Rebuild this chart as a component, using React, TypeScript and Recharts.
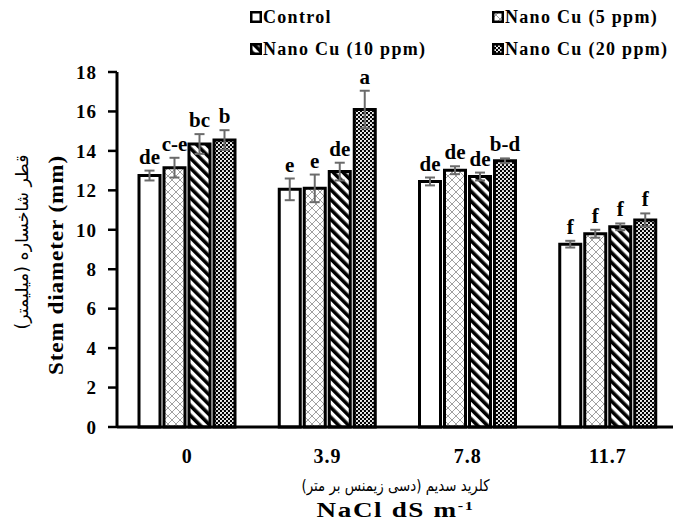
import { BarChart, Bar, XAxis, YAxis, ErrorBar, LabelList, Label } from 'recharts';

const categories = ['0', '3.9', '7.8', '11.7'];

const control = [12.75, 12.05, 12.45, 9.27];
const controlErr = [0.25, 0.55, 0.2, 0.17];
const controlLetters = ['de', 'e', 'de', 'f'];

const cu5 = [13.15, 12.1, 13.02, 9.8];
const cu5Err = [0.5, 0.7, 0.2, 0.2];
const cu5Letters = ['c-e', 'e', 'de', 'f'];

const cu10 = [14.35, 12.95, 12.7, 10.15];
const cu10Err = [0.5, 0.45, 0.2, 0.17];
const cu10Letters = ['bc', 'de', 'de', 'f'];

const cu20 = [14.55, 16.1, 13.5, 10.5];
const cu20Err = [0.5, 0.95, 0.12, 0.33];
const cu20Letters = ['b', 'a', 'b-d', 'f'];

const yTicks = [0, 2, 4, 6, 8, 10, 12, 14, 16, 18];

const data = categories.map((name, i) => ({
  name,
  control: control[i],
  controlErr: controlErr[i],
  cu5: cu5[i],
  cu5Err: cu5Err[i],
  cu10: cu10[i],
  cu10Err: cu10Err[i],
  cu20: cu20[i],
  cu20Err: cu20Err[i],
}));

const series = [
  { key: 'control', err: 'controlErr', errs: controlErr, letters: controlLetters, fill: '#ffffff', name: 'Control' },
  { key: 'cu5', err: 'cu5Err', errs: cu5Err, letters: cu5Letters, fill: 'url(#pCross)', name: 'Nano Cu (5 ppm)' },
  { key: 'cu10', err: 'cu10Err', errs: cu10Err, letters: cu10Letters, fill: 'url(#pStripe)', name: 'Nano Cu (10 ppm)' },
  { key: 'cu20', err: 'cu20Err', errs: cu20Err, letters: cu20Letters, fill: 'url(#pDots)', name: 'Nano Cu (20 ppm)' },
];

const SERIF = '"Liberation Serif", "Times New Roman", serif';
const PERSIAN = '"DejaVu Sans", sans-serif';

function Patterns() {
  return (
    <defs>
      <pattern id="pCross" width="8" height="8" patternUnits="userSpaceOnUse">
        <rect width="8" height="8" fill="#fff" />
        <path d="M0 0L8 8M8 0L0 8" stroke="#a0a0a0" strokeWidth="1" />
      </pattern>
      <pattern id="pStripe" width="7" height="7" patternUnits="userSpaceOnUse" patternTransform="rotate(-45)">
        <rect width="7" height="7" fill="#fff" />
        <rect width="3.6" height="7" fill="#000" />
      </pattern>
      <pattern id="pDots" width="4" height="4" patternUnits="userSpaceOnUse">
        <rect width="4" height="4" fill="#000" />
        <circle cx="1" cy="1" r="1.1" fill="#fff" />
        <circle cx="3" cy="3" r="1.1" fill="#fff" />
      </pattern>
    </defs>
  );
}

function makeLetterLabel(letters: string[], errs: number[]) {
  return (props: any) => {
    const x = Number(props.x);
    const y = Number(props.y);
    const w = Number(props.width);
    const h = Number(props.height);
    const v = Number(props.value);
    const i = props.index;
    const perUnit = v ? h / v : 0;
    const top = y - errs[i] * perUnit;
    return (
      <text
        x={x + w / 2}
        y={top - 7}
        textAnchor="middle"
        fontFamily={SERIF}
        fontWeight="bold"
        fontSize={21}
        fill="#000"
      >
        {letters[i]}
      </text>
    );
  };
}

function YTitle(props: any) {
  const vb = props.viewBox;
  const py = 242;
  const sy = 265;
  const px = vb.x + 22;
  const sx = vb.x + 56;
  return (
    <g>
      <text
        x={px}
        y={py}
        transform={`rotate(-90 ${px} ${py})`}
        textAnchor="middle"
        dominantBaseline="central"
        fontFamily={PERSIAN}
        fontSize={17}
        textLength={175}
        lengthAdjust="spacingAndGlyphs"
        direction="rtl"
        style={{ direction: 'rtl', unicodeBidi: 'embed' }}
        fill="#000"
      >
        قطر شاخساره (میلیمتر)
      </text>
      <text
        x={sx}
        y={sy}
        transform={`rotate(-90 ${sx} ${sy})`}
        textAnchor="middle"
        dominantBaseline="central"
        fontFamily={SERIF}
        fontWeight="bold"
        fontSize={20}
        letterSpacing={0.8}
        textLength={220}
        lengthAdjust="spacingAndGlyphs"
        fill="#000"
      >
        Stem diameter (mm)
      </text>
    </g>
  );
}

function XTitle(props: any) {
  const vb = props.viewBox;
  const cx = vb.x + vb.width / 2 - 2;
  return (
    <g>
      <text
        x={cx}
        y={vb.y + 64}
        textAnchor="middle"
        fontFamily={PERSIAN}
        fontSize={16}
        textLength={188}
        lengthAdjust="spacingAndGlyphs"
        direction="rtl"
        style={{ direction: 'rtl', unicodeBidi: 'embed' }}
        fill="#000"
      >
        کلرید سدیم (دسی زیمنس بر متر)
      </text>
      <text
        x={cx}
        y={vb.y + 90}
        textAnchor="middle"
        fontFamily={SERIF}
        fontWeight="bold"
        fontSize={20}
        letterSpacing={1.2}
        textLength={158}
        lengthAdjust="spacingAndGlyphs"
        fill="#000"
      >
        <tspan>NaCl dS m</tspan>
        <tspan dy={-7} fontSize={12}>-1</tspan>
      </text>
    </g>
  );
}

function XTick(props: any) {
  return (
    <text
      x={props.x}
      y={props.y}
      dy={28}
      textAnchor="middle"
      fontFamily={SERIF}
      fontWeight="bold"
      fontSize={20}
      letterSpacing={1}
      fill="#000"
    >
      {props.payload.value}
    </text>
  );
}

function LegendBox() {
  const pos = [
    { left: 250, top: 7 },
    { left: 492, top: 7 },
    { left: 250, top: 39 },
    { left: 492, top: 39 },
  ];
  return (
    <>
      {series.map((s, i) => (
        <div
          key={s.key}
          style={{
            position: 'absolute',
            left: pos[i].left,
            top: pos[i].top,
            display: 'flex',
            alignItems: 'center',
            fontFamily: SERIF,
            fontWeight: 'bold',
            fontSize: 18,
            letterSpacing: 1.3,
            whiteSpace: 'nowrap',
            lineHeight: '20px',
          }}
        >
          <svg width={12} height={12} style={{ marginRight: 1 }}>
            <rect x={1.25} y={1.25} width={9.5} height={9.5} fill={s.fill} stroke="#000" strokeWidth={2.5} />
          </svg>
          {s.name}
        </div>
      ))}
    </>
  );
}

export default function App() {
  return (
    <div style={{ position: 'absolute', left: 0, top: 0, width: 673, height: 524, overflow: 'hidden', background: '#fff' }}>
      <BarChart
        width={680}
        height={524}
        data={data}
        margin={{ top: 72, right: 2, left: 0, bottom: 0 }}
        barSize={21}
        barGap={4}
      >
        <Patterns />
        <XAxis
          dataKey="name"
          height={97}
          axisLine={{ stroke: '#000', strokeWidth: 3 }}
          tickLine={false}
          tick={<XTick />}
          interval={0}
        >
          <Label content={<XTitle />} />
        </XAxis>
        <YAxis
          width={117}
          domain={[0, 18]}
          ticks={yTicks}
          interval={0}
          axisLine={{ stroke: '#000', strokeWidth: 3 }}
          tickLine={{ stroke: '#000', strokeWidth: 2.5 }}
          tickSize={9}
          tickMargin={11}
          tick={{ fontFamily: SERIF, fontWeight: 'bold', fontSize: 19, fill: '#000', letterSpacing: 1 }}
        >
          <Label content={<YTitle />} />
        </YAxis>
        {series.map((s) => (
          <Bar
            key={s.key}
            dataKey={s.key}
            name={s.name}
            fill={s.fill}
            stroke="#000"
            strokeWidth={3}
            isAnimationActive={false}
          >
            <ErrorBar dataKey={s.err} width={5} stroke="#6b6b6b" strokeWidth={2} direction="y" />
            <LabelList dataKey={s.key} content={makeLetterLabel(s.letters, s.errs)} />
          </Bar>
        ))}
      </BarChart>
      <LegendBox />
    </div>
  );
}
